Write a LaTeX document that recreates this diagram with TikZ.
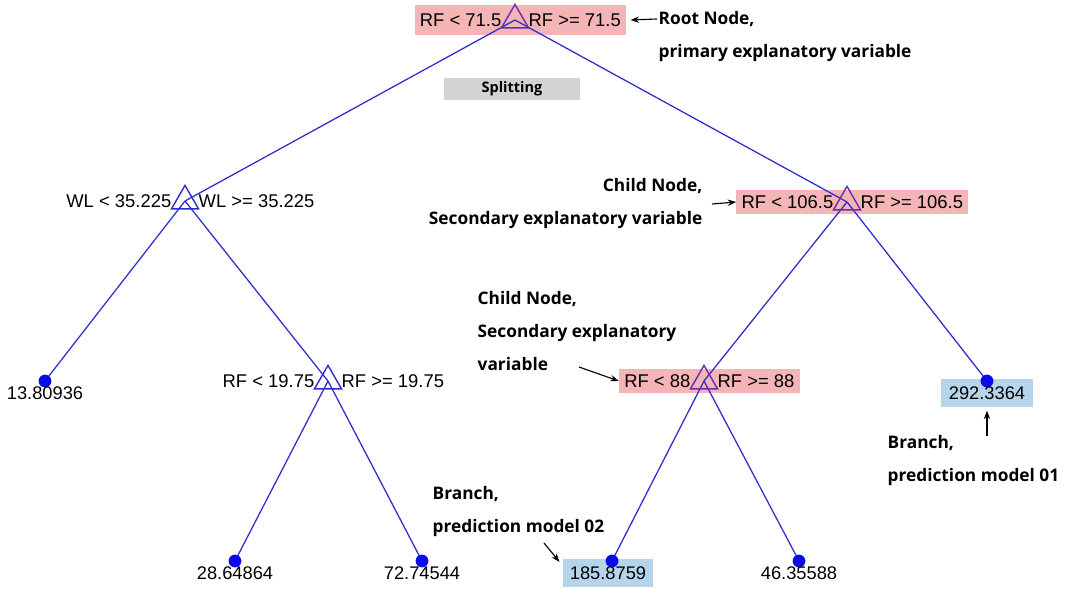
\documentclass[tikz,border=0pt]{standalone}
\usepackage{fontspec}
\setmainfont{Liberation Sans}
\newfontfamily\notefont{Open Sans}
\usetikzlibrary{shapes.geometric,fit,backgrounds,arrows.meta}

\definecolor{edgeblue}{RGB}{45,45,205}
\definecolor{splitviolet}{RGB}{105,45,170}
\definecolor{dotblue}{RGB}{10,10,235}
\definecolor{hlpink}{RGB}{245,180,182}
\definecolor{hlblue}{RGB}{182,212,234}
\definecolor{splitgray}{RGB}{211,211,211}

\tikzset{
  split/.style={regular polygon,regular polygon sides=3,draw=edgeblue,line width=1pt,
    minimum size=0.78cm,inner sep=0pt},
  rule/.style={font=\fontsize{13.1}{16}\selectfont,inner sep=1pt},
  leaf/.style={circle,fill=dotblue,minimum size=0.32cm,inner sep=0pt},
  value/.style={font=\fontsize{13}{16}\selectfont,inner sep=1pt,anchor=north},
  note/.style={font=\notefont\bfseries\fontsize{12.3}{23.4}\selectfont,inner sep=1pt},
  pointer/.style={-{Stealth[length=6pt,width=4.5pt]},line width=0.8pt},
  branch/.style={draw=edgeblue,line width=0.9pt},
}

\begin{document}
\begin{tikzpicture}[x=0.025cm,y=-0.025cm]
  \useasboundingbox (0,0) rectangle (1072,590);

  % splitting nodes
  \node[split,draw=splitviolet] (root) at (515,20) {};
  \node[split] (wl) at (185,201) {};
  \node[split,draw=splitviolet] (rfa) at (847,202) {};
  \node[split] (rfb) at (328,381) {};
  \node[split,draw=splitviolet] (rfc) at (704,381) {};

  \node[rule,anchor=east] (root-lo) at ([xshift=-0.3cm]root.center) {RF < 71.5};
  \node[rule,anchor=west] (root-hi) at ([xshift=0.3cm]root.center) {RF >= 71.5};
  \node[rule,anchor=east] (wl-lo) at ([xshift=-0.3cm]wl.center) {WL < 35.225};
  \node[rule,anchor=west] (wl-hi) at ([xshift=0.3cm]wl.center) {WL >= 35.225};
  \node[rule,anchor=east] (rfa-lo) at ([xshift=-0.3cm]rfa.center) {RF < 106.5};
  \node[rule,anchor=west] (rfa-hi) at ([xshift=0.3cm]rfa.center) {RF >= 106.5};
  \node[rule,anchor=east] (rfb-lo) at ([xshift=-0.3cm]rfb.center) {RF < 19.75};
  \node[rule,anchor=west] (rfb-hi) at ([xshift=0.3cm]rfb.center) {RF >= 19.75};
  \node[rule,anchor=east] (rfc-lo) at ([xshift=-0.3cm]rfc.center) {RF < 88};
  \node[rule,anchor=west] (rfc-hi) at ([xshift=0.3cm]rfc.center) {RF >= 88};

  % terminal nodes
  \node[leaf] (v1) at (45,381) {};
  \node[leaf] (v2) at (987,381) {};
  \node[leaf] (v3) at (235,561) {};
  \node[leaf] (v4) at (422,561) {};
  \node[leaf] (v5) at (612,561) {};
  \node[leaf] (v6) at (799,561) {};
  \node[value] (v1-t) at ([yshift=-0.1cm]v1.center) {13.80936};
  \node[value] (v2-t) at ([yshift=-0.1cm]v2.center) {292.3364};
  \node[value] (v3-t) at ([yshift=-0.1cm]v3.center) {28.64864};
  \node[value] (v4-t) at ([yshift=-0.1cm]v4.center) {72.74544};
  \node[value] (v5-t) at ([xshift=-0.1cm,yshift=-0.1cm]v5.center) {185.8759};
  \node[value] (v6-t) at ([yshift=-0.1cm]v6.center) {46.35588};

  \node[fill=splitgray,minimum width=3.4cm,minimum height=0.53cm,inner sep=0pt,
    font=\notefont\bfseries\fontsize{10.3}{12}\selectfont] (splitting) at (512,89) {Splitting};

  \begin{scope}[on background layer]
    \node[fit=(root-lo)(root-hi),fill=hlpink,inner xsep=2.5pt,inner ysep=5pt] (root-box) {};
    \node[fit=(rfa-lo)(rfa-hi),fill=hlpink,inner xsep=2.5pt,inner ysep=2.8pt] (rfa-box) {};
    \node[fit=(rfc-lo)(rfc-hi),fill=hlpink,inner xsep=2.5pt,inner ysep=2.8pt] (rfc-box) {};
    \node[fit=(v2-t),fill=hlblue,inner xsep=4.5pt,inner ysep=4pt] (v2-box) {};
    \node[fit=(v5-t),fill=hlblue,inner xsep=4pt,inner ysep=4pt] (v5-box) {};
    % branches
    \draw[branch] (root.center) -- (wl.center);
    \draw[branch] (root.center) -- (rfa.center);
    \draw[branch] (wl.center) -- (v1.center);
    \draw[branch] (wl.center) -- (rfb.center);
    \draw[branch] (rfb.center) -- (v3.center);
    \draw[branch] (rfb.center) -- (v4.center);
    \draw[branch] (rfa.center) -- (rfc.center);
    \draw[branch] (rfa.center) -- (v2.center);
    \draw[branch] (rfc.center) -- (v5.center);
    \draw[branch] (rfc.center) -- (v6.center);
  \end{scope}

  % annotations
  \node[note,anchor=north west,align=left] (root-note) at (657,10) {Root Node,\\primary explanatory variable};
  \node[note,anchor=north east,align=right] (rfa-note) at (704,177) {Child Node,\\Secondary explanatory variable};
  \node[note,anchor=north west,align=left] (rfc-note) at (476,290) {Child Node,\\Secondary explanatory\\variable};
  \node[note,anchor=north west,align=left] (v2-note) at (886,434) {Branch,\\prediction model 01};
  \node[note,anchor=north west,align=left] (v5-note) at (431,485) {Branch,\\prediction model 02};

  \coordinate (root-tail) at (657,19);
  \coordinate (rfa-tail) at (712,204);
  \coordinate (rfc-tail) at (579,367);
  \coordinate (v2-tail) at (987,436);
  \coordinate (v5-tail) at (544,543);
  \draw[pointer] (root-tail) -- ([xshift=3pt]root-box.east);
  \draw[pointer] (rfa-tail) -- (rfa-box.west);
  \draw[pointer] (rfc-tail) -- (rfc-box.west);
  \draw[pointer,shorten >=2.5pt] (v2-tail) -- (v2-box.south);
  \draw[pointer] (v5-tail) -- ([xshift=-2pt,yshift=-2pt]v5-box.north west);
\end{tikzpicture}
\end{document}
